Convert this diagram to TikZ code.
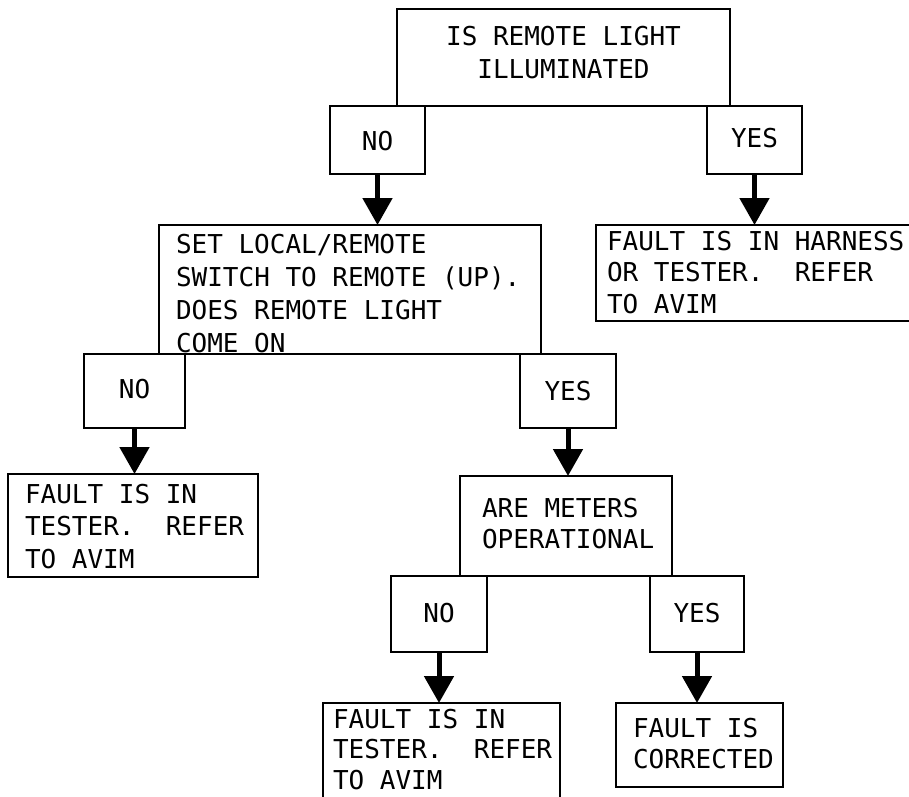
\documentclass[tikz,border=0pt]{standalone}
\usepackage{fontspec}
\newfontfamily\lmono{DejaVu Sans Mono}
\newcommand\monofont[1]{\lmono\fontsize{26}{#1}\selectfont}
\newcommand\mtab[2]{\spaceskip=15.65pt\relax\xspaceskip=15.65pt\relax\begin{tabular}[t]{@{}#1@{}}#2\end{tabular}}
\usetikzlibrary{arrows.meta}
\begin{document}
\begin{tikzpicture}[x=1pt,y=-1pt,
  bx/.style={draw, line width=2pt, rectangle, outer sep=0pt, inner ysep=0pt, anchor=north west, minimum height=0pt},
  lbl/.style={bx, inner xsep=0pt, font=\monofont{31pt}},
  tb/.style 2 args={bx, inner xsep=#1, align=left, font=\monofont{#2}},
  arr/.style={line width=5pt, -{Triangle[width=29pt,length=27pt]}}]
\useasboundingbox (0,0) rectangle (909,796);

% question 1
\node[bx, inner xsep=0pt, text width=333pt, align=center, font=\monofont{33pt},
      text height=36pt, text depth=61pt] (q1) at (397,9)
  {\mtab{c}{IS REMOTE LIGHT\\ILLUMINATED}};
\node[lbl, minimum width=95pt, text height=44pt, text depth=24pt] (no1) at (330,106) {NO};
\node[lbl, minimum width=95pt, text height=41pt, text depth=27pt] (yes1) at (707,106) {YES};

% question 2
\node[tb={17pt}{33pt}, text width=348pt, text height=28pt, text depth=101pt] (q2) at (159,225)
  {\mtab{l}{SET LOCAL/REMOTE\\SWITCH TO REMOTE (UP).\\DOES REMOTE LIGHT\\COME ON}};
\node[tb={11pt}{31.5pt}, text width=297pt, text height=25pt, text depth=71pt] (harn) at (596,225)
  {\mtab{l}{FAULT IS IN HARNESS\\OR TESTER.\ \ REFER\\TO AVIM}};
\node[lbl, minimum width=101pt, text height=44pt, text depth=30pt] (no2) at (84,354) {NO};
\node[lbl, minimum width=96pt, text height=46pt, text depth=28pt] (yes2) at (520,354) {YES};

% results / question 3
\node[tb={17pt}{32.5pt}, text width=216pt, text height=29pt, text depth=74pt] (f1) at (8,474)
  {\mtab{l}{FAULT IS IN\\TESTER.\ \ REFER\\TO AVIM}};
\node[tb={22pt}{31pt}, text width=168pt, text height=41pt, text depth=59pt] (q3) at (460,476)
  {\mtab{l}{ARE METERS\\OPERATIONAL}};
\node[lbl, minimum width=96pt, text height=46pt, text depth=30pt] (no3) at (391,576) {NO};
\node[lbl, minimum width=94pt, text height=46pt, text depth=30pt] (yes3) at (650,576) {YES};
\node[tb={10pt}{30.5pt}, text width=217pt, text height=25pt, text depth=77pt] (f3) at (323,703)
  {\mtab{l}{FAULT IS IN\\TESTER.\ \ REFER\\TO AVIM}};
\node[tb={17pt}{31pt}, text width=133pt, text height=34pt, text depth=50pt] (corr) at (616,703)
  {\mtab{l}{FAULT IS\\CORRECTED}};

% arrows
\draw[arr] (no1.south) -- (no1.south |- q2.north);
\draw[arr] (yes1.south) -- (yes1.south |- harn.north);
\draw[arr] (no2.south) -- (no2.south |- f1.north);
\draw[arr] (yes2.south) -- (yes2.south |- q3.north);
\draw[arr] (no3.south) -- (no3.south |- f3.north);
\draw[arr] (yes3.south) -- (yes3.south |- corr.north);
\end{tikzpicture}
\end{document}
